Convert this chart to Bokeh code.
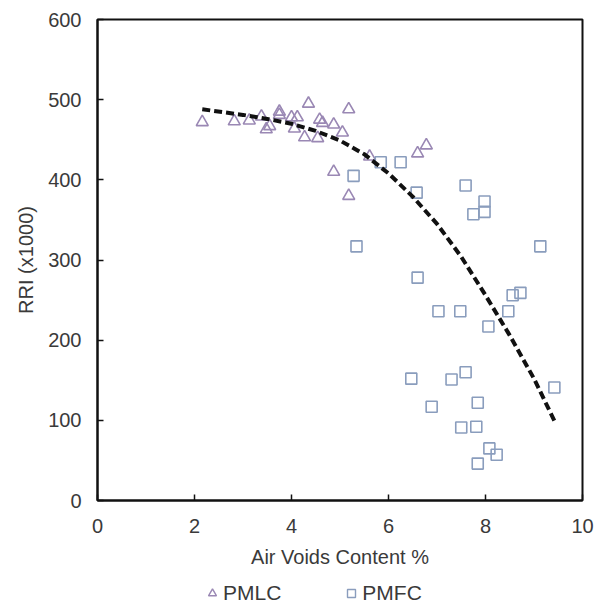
from bokeh.plotting import figure
from bokeh.layouts import column
from bokeh.models import Legend, LegendItem, FixedTicker, Range1d
from bokeh.embed import file_html
from bokeh.resources import INLINE

# PMLC (triangles)
pmlc_x = [2.16, 2.82, 3.13, 3.38, 3.48, 3.55, 3.75, 3.75, 4.00, 4.12, 4.06, 4.27,
          4.35, 4.58, 4.64, 4.54, 4.87, 5.05, 5.18, 4.87, 5.18, 5.61, 6.60, 6.78]
pmlc_y = [472, 473, 474, 479, 463, 467, 485, 481, 478, 478, 464, 453,
          495, 475, 471, 452, 469, 459, 488, 410, 380, 429, 433, 443]

# PMFC (squares)
pmfc_x = [5.28, 5.84, 6.25, 6.58, 7.59, 7.75, 7.98, 7.98, 5.34, 6.60, 9.13, 8.56,
          8.72, 7.03, 7.48, 8.47, 8.06, 6.47, 7.30, 7.59, 9.42, 6.89, 7.84, 7.50,
          7.81, 8.08, 8.23, 7.84]
pmfc_y = [405, 422, 422, 384, 393, 357, 373, 360, 317, 278, 317, 256,
          259, 236, 236, 236, 217, 152, 151, 160, 141, 117, 122, 91,
          92, 65, 57, 46]

# Trend line
trend_x = [2.16, 3.0, 3.5, 4.0, 4.5, 5.0, 5.5, 6.0, 6.5, 7.0, 7.5, 8.0, 8.5, 9.0, 9.44]
trend_y = [488, 481, 476, 470, 461, 449, 432, 408, 379, 345, 304, 256, 206, 152, 97]

x_ticks = [0, 2, 4, 6, 8, 10]
y_ticks = [0, 100, 200, 300, 400, 500, 600]
series_names = ["PMLC", "PMFC"]

FONT = "Liberation Sans"
TXT = "#3a3a3a"
C_TRI = "#9a88b4"
C_SQ = "#8a9dbd"

p = figure(frame_width=485, frame_height=481, output_backend="svg", toolbar_location=None,
           x_range=Range1d(0, 10), y_range=Range1d(0, 600),
           min_border_left=97, min_border_top=19, min_border_right=15, min_border_bottom=80,
           background_fill_color="white", border_fill_color="white")

p.grid.visible = False
p.outline_line_color = "#111111"
p.outline_line_width = 2

for ax in (p.xaxis[0], p.yaxis[0]):
    ax.axis_line_color = "#111111"
    ax.axis_line_width = 2
    ax.major_tick_in = 6
    ax.major_tick_out = 0
    ax.major_tick_line_color = "#111111"
    ax.major_tick_line_width = 1.5
    ax.minor_tick_line_color = None
    ax.major_label_text_font = FONT
    ax.major_label_text_font_size = "20px"
    ax.major_label_text_color = TXT
    ax.axis_label_text_font = FONT
    ax.axis_label_text_font_size = "20px"
    ax.axis_label_text_font_style = "normal"
    ax.axis_label_text_color = TXT

p.xaxis.ticker = FixedTicker(ticks=x_ticks)
p.yaxis.ticker = FixedTicker(ticks=y_ticks)
p.xaxis.major_label_standoff = 18
p.yaxis.major_label_standoff = 16
p.xaxis.axis_label = "Air Voids Content %"
p.yaxis.axis_label = "RRI (x1000)"
p.xaxis.axis_label_standoff = 10
p.yaxis.axis_label_standoff = 8

p.scatter(pmlc_x, pmlc_y, marker="triangle", size=12, fill_color=None,
          line_color=C_TRI, line_width=1.6)
p.scatter(pmfc_x, pmfc_y, marker="square", size=11, fill_color=None,
          line_color=C_SQ, line_width=1.6)
p.line(trend_x, trend_y, line_color="#111111", line_width=4, line_dash="8 4")

# Legend strip below the chart (its renderers lie outside the strip's ranges,
# only their legend glyphs are shown)
p2 = figure(width=597, height=25, output_backend="svg", toolbar_location=None,
            x_range=Range1d(0, 10), y_range=Range1d(-2, -1),
            x_axis_type=None, y_axis_type=None, min_border=0,
            background_fill_color="white", border_fill_color="white")
p2.grid.visible = False
p2.outline_line_color = None
g1 = p2.scatter(pmlc_x, pmlc_y, marker="triangle", size=10, fill_color=None,
                line_color=C_TRI, line_width=1.4)
g2 = p2.scatter(pmfc_x, pmfc_y, marker="square", size=10, fill_color=None,
                line_color=C_SQ, line_width=1.4)
legend = Legend(items=[LegendItem(label=series_names[0], renderers=[g1]),
                       LegendItem(label=series_names[1], renderers=[g2])],
                orientation="horizontal", location=(105, 0),
                glyph_width=20, glyph_height=24, label_standoff=1, spacing=60,
                label_text_font=FONT, label_text_font_size="21px", label_text_color=TXT,
                border_line_alpha=0, background_fill_alpha=0, padding=0, margin=0)
p2.add_layout(legend, "center")

open("out.html", "w").write(file_html(column(p, p2, spacing=0), INLINE))
